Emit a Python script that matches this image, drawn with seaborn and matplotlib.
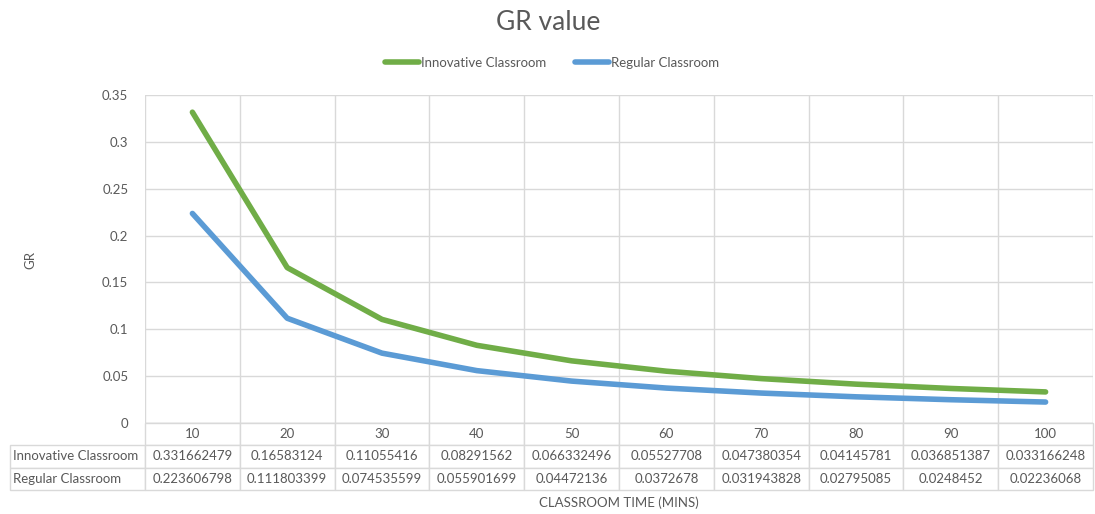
import numpy as np
import pandas as pd
import matplotlib
matplotlib.use("Agg")
import matplotlib.pyplot as plt
import seaborn as sns

times = [10, 20, 30, 40, 50, 60, 70, 80, 90, 100]
innovative = [0.331662479, 0.16583124, 0.11055416, 0.08291562, 0.066332496,
              0.05527708, 0.047380354, 0.04145781, 0.036851387, 0.033166248]
regular = [0.223606798, 0.111803399, 0.074535599, 0.055901699, 0.04472136,
           0.0372678, 0.031943828, 0.02795085, 0.0248452, 0.02236068]
series_names = ["Innovative Classroom", "Regular Classroom"]
colors = ["#70AD47", "#5B9BD5"]

sns.set_style("white")
plt.rcParams['font.family'] = ['Lato', 'DejaVu Sans']
text_col = "#595959"
grid_col = "#d9d9d9"

df = pd.DataFrame({
    "pos": list(range(len(times))) * 2,
    "GR": innovative + regular,
    "series": [series_names[0]] * len(times) + [series_names[1]] * len(times),
})

fig = plt.figure(figsize=(10.95, 5.14), dpi=100)
ax = fig.add_axes([145 / 1095, 1 - 423 / 514, 948 / 1095, 328 / 514])

sns.lineplot(data=df, x="pos", y="GR", hue="series", palette=colors,
             linewidth=4, ax=ax, legend=True)

ax.set_xlim(-0.5, len(times) - 0.5)
ax.set_ylim(0, 0.35)
ax.set_yticks(np.arange(0, 0.351, 0.05))
ax.set_yticklabels(["0", "0.05", "0.1", "0.15", "0.2", "0.25", "0.3", "0.35"])
ax.set_xticks(np.arange(-0.5, len(times), 1.0))
ax.set_xticklabels([])
ax.tick_params(axis="both", length=0, labelsize=9.5, labelcolor=text_col, pad=12)
ax.grid(True, color=grid_col, linewidth=1)
for s in ax.spines.values():
    s.set_visible(False)
ax.axhline(0, color=grid_col, linewidth=1)

ax.set_xlabel("")
ax.set_ylabel("")
fig.text(30 / 1095, 1 - 260 / 514, "GR", rotation=90, ha="center", va="center",
         fontsize=9.5, color=text_col)
fig.text(619 / 1095, 1 - 503 / 514, "CLASSROOM TIME (MINS)", ha="center", va="center",
         fontsize=9.5, color=text_col)
fig.text(548 / 1095, 1 - 22 / 514, "GR value", ha="center", va="center",
         fontsize=19, color=text_col)

handles, labels = ax.get_legend_handles_labels()
ax.get_legend().remove()
fig.legend(handles, labels, loc="center", bbox_to_anchor=(552 / 1095, 1 - 63 / 514),
           ncol=2, frameon=False, fontsize=9.5, labelcolor=text_col,
           handlelength=2.6, handletextpad=0.1, columnspacing=2.2)

# data table under the plot
cell_text = [[""] + [str(t) for t in times],
             [series_names[0]] + [f"{v:.9g}" for v in innovative],
             [series_names[1]] + [f"{v:.9g}" for v in regular]]
x0 = (10 - 145) / 948
h = 67 / 328
first_w = (145 - 10) / 948
tbl = ax.table(cellText=cell_text, cellLoc="center",
               bbox=[x0, -h, 1 - x0, h])
tbl.auto_set_font_size(False)
tbl.set_fontsize(9.5)
ncols = len(times) + 1
for (r, c), cell in tbl.get_celld().items():
    cell.set_edgecolor(grid_col)
    cell.set_linewidth(1)
    cell.get_text().set_color(text_col)
    if c == 0:
        cell.set_width(first_w * h / h)
        cell.get_text().set_ha("left")
        cell.PAD = 0.02
    else:
        cell.set_width(1.0 / len(times))
    if r == 0 and c == 0:
        cell.set_edgecolor("white")
        cell.set_visible(False)

fig.savefig("out.png", dpi=100)
